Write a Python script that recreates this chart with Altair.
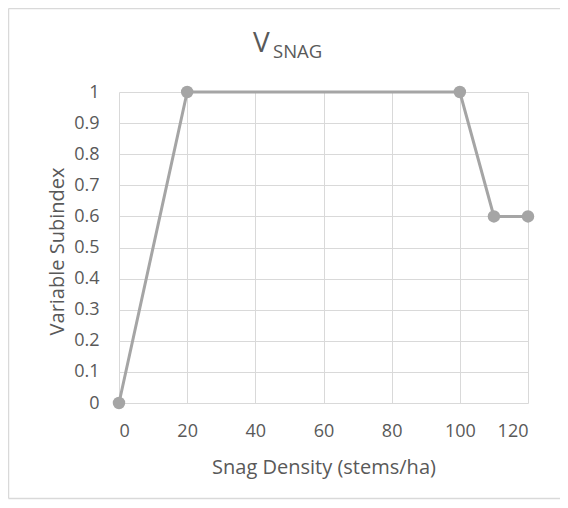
import altair as alt
import pandas as pd

# Data
density = [0, 20, 100, 110, 120]
subindex = [0.0, 1.0, 1.0, 0.6, 0.6]
x_ticks = [0, 20, 40, 60, 80, 100, 120]
y_ticks = [0, 0.1, 0.2, 0.3, 0.4, 0.5, 0.6, 0.7, 0.8, 0.9, 1.0]

df = pd.DataFrame({"density": density, "subindex": subindex})

FONT = "Open Sans"
TXT = "#595959"
GRID = "#D9D9D9"
SERIES = "#A5A5A5"

W, H = 409, 311
PAD = {"left": 111, "top": 84, "right": 32, "bottom": 97}

x_enc = alt.X(
    "density:Q",
    scale=alt.Scale(domain=[0, 120], nice=False, zero=False),
    axis=alt.Axis(
        values=x_ticks, grid=True, gridColor=GRID, domain=False, ticks=False,
        labelFont=FONT, labelFontSize=18, labelColor=TXT, labelPadding=19,
        title="Snag Density (stems/ha)", titleFont=FONT, titleFontSize=20,
        titleFontWeight="normal", titleColor=TXT,
        titleBaseline="alphabetic", titleY=70,
    ),
)
y_enc = alt.Y(
    "subindex:Q",
    scale=alt.Scale(domain=[0, 1], nice=False),
    axis=alt.Axis(
        values=y_ticks, format="~g", grid=True, gridColor=GRID, domain=False, ticks=False,
        labelFont=FONT, labelFontSize=18, labelColor=TXT, labelPadding=20,
        title="Variable Subindex", titleFont=FONT, titleFontSize=20,
        titleFontWeight="normal", titleColor=TXT,
        titleBaseline="alphabetic", titleX=-56, titleY=159,
    ),
)

base = alt.Chart(df)
line = base.mark_line(color=SERIES, strokeWidth=3).encode(x=x_enc, y=y_enc)
pts = base.mark_point(filled=True, color=SERIES, opacity=1, size=155).encode(x=x_enc, y=y_enc)

one = alt.Data(values=[{}])
border_style = dict(color=GRID, strokeWidth=1.5)
b_left = alt.Chart(one).mark_rule(**border_style).encode(
    x=alt.value(-110.5), y=alt.value(-83.5), y2=alt.value(406.5)
)
b_top = alt.Chart(one).mark_rule(**border_style).encode(
    x=alt.value(-110.5), x2=alt.value(445), y=alt.value(-83.5)
)
b_bottom = alt.Chart(one).mark_rule(**border_style).encode(
    x=alt.value(-110.5), x2=alt.value(445), y=alt.value(406.5)
)
title_v = alt.Chart(one).mark_text(
    text="V", font=FONT, fontSize=28, color=TXT, align="left", baseline="alphabetic"
).encode(x=alt.value(134), y=alt.value(-40))
title_sub = alt.Chart(one).mark_text(
    text="SNAG", font=FONT, fontSize=18.5, color=TXT, align="left", baseline="alphabetic"
).encode(x=alt.value(154), y=alt.value(-34))

chart = alt.layer(b_left, b_top, b_bottom, line, pts, title_v, title_sub).properties(
    width=W, height=H, padding=PAD, autosize=alt.AutoSizeParams(type="none"),
    background="white",
).configure_view(stroke=None)

chart.save("out.html", embed_options={"renderer": "svg", "actions": False})
